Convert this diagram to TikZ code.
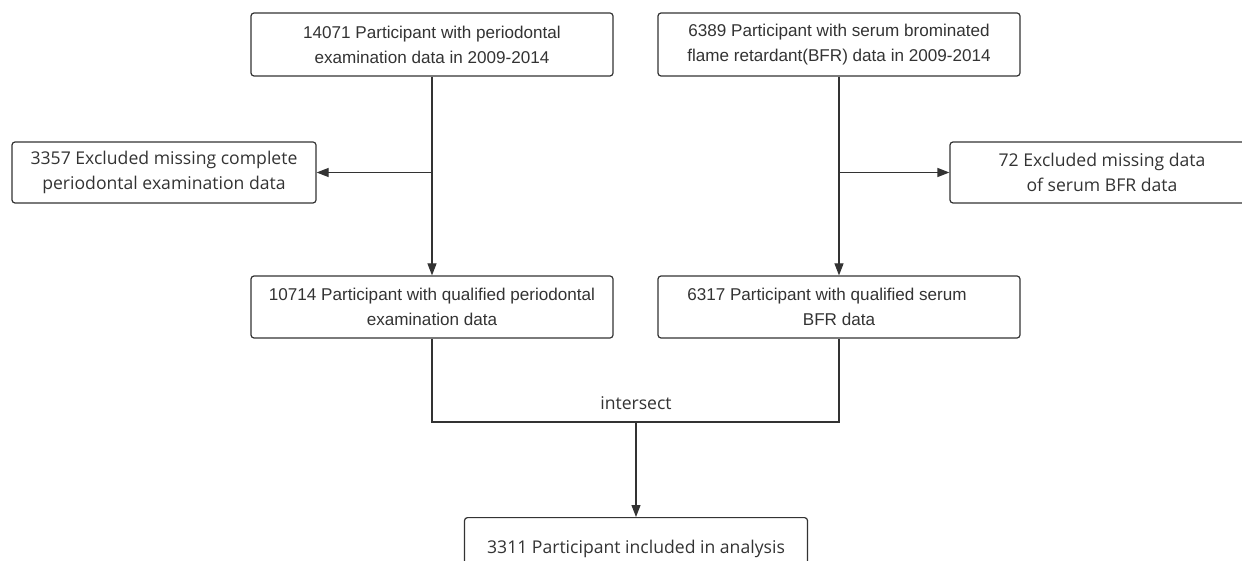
\documentclass[tikz,border=0pt]{standalone}
\usepackage{fontspec}
\setmainfont{Liberation Sans}
\newfontfamily\yahei{Open Sans}
\usetikzlibrary{arrows.meta}
\definecolor{ln}{HTML}{333333}
\begin{document}
\begin{tikzpicture}[x=1pt,y=-1pt,
  box/.style={draw=ln,line width=1.2pt,rounded corners=3pt,align=center,inner sep=0pt,
    text=ln,font=\fontsize{17.1}{25}\selectfont},
  ybox/.style={box,font=\yahei\fontsize{17.6}{25}\selectfont},
  conn/.style={draw=ln,line width=1.2pt},
  arr/.style={conn,-{Triangle[length=12pt,width=9pt]}}]
\useasboundingbox (0,0) rectangle (1242,561);
\node[box,minimum width=362pt,minimum height=63pt] (b1) at (432,44.5)
  {14071 Participant with periodontal\\examination data in 2009-2014};
\node[box,minimum width=362pt,minimum height=63pt] (b2) at (839,44.5)
  {6389 Participant with serum brominated\\flame retardant(BFR) data in 2009-2014};
\node[ybox,minimum width=304pt,minimum height=61pt] (el) at (164,172.5)
  {3357 Excluded missing complete\\periodontal examination data};
\node[ybox,minimum width=304pt,minimum height=61pt] (er) at (1102,172.5)
  {72 Excluded missing data\\of serum BFR data};
\node[box,minimum width=362pt,minimum height=62pt] (b3) at (432,307)
  {10714 Participant with qualified periodontal\\examination data};
\node[box,minimum width=362pt,minimum height=62pt] (b4) at (839,307)
  {6317 Participant with qualified serum\kern24pt\\BFR data};
\node[ybox,minimum width=343pt,minimum height=62pt,anchor=north] (fin) at (636,517)
  {3311 Participant included in analysis};
\node[font=\yahei\fontsize{17.6}{25}\selectfont,text=ln,inner sep=0pt] (ix) at (636,403) {intersect};
\coordinate (jl) at (b1.south |- el.east);
\coordinate (jr) at (b2.south |- er.west);
\coordinate (hl) at (432,422);
\coordinate (hr) at (839,422);
\coordinate (hm) at (636,422);
\draw[arr] (b1.south) -- (b3.north);
\draw[arr] (jl) -- (el.east);
\draw[arr] (b2.south) -- (b4.north);
\draw[arr] (jr) -- (er.west);
\draw[conn] (b3.south) -- (hl) -- (hr) -- (b4.south);
\draw[arr] (hm) -- (fin.north);
\end{tikzpicture}
\end{document}
